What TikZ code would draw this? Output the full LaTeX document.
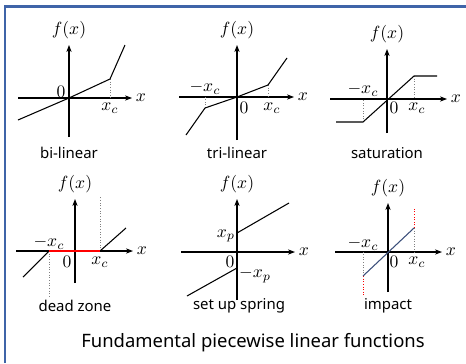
\documentclass[tikz,border=0pt]{standalone}
\usepackage{fontspec}
\setsansfont{Noto Sans}
\usetikzlibrary{arrows.meta}

\definecolor{framecol}{RGB}{63,100,168}
\definecolor{impactcol}{RGB}{58,78,122}

\begin{document}
\begin{tikzpicture}[x=0.02cm,y=0.02cm,
    axis/.style={line width=0.6pt,-{Stealth[length=4pt,width=3pt]}},
    graph/.style={line width=0.6pt},
    guide/.style={gray,densely dotted,line width=0.5pt},
    lab/.style={font=\fontsize{10}{12}\selectfont,inner sep=1pt},
    fname/.style={font=\sffamily\fontsize{8.5}{10}\selectfont,inner sep=1pt}]
  \useasboundingbox (0,0) rectangle (466,363);
  % frame
  \coordinate (k1) at (5,0);
  \coordinate (k2) at (5,357);
  \coordinate (k3) at (466,357);
  \draw[framecol,line width=0.06cm] (k1) -- (k2) -- (k3);
  % axes, f(x) and x
  \foreach \n/\px/\py/\xl/\xr/\yb/\yt in {1/69/265/51/63/39/53,
      2/237/266/58/57/43/52, 3/387/264/57/60/34/50,
      4/75/112/59/58/32/52, 5/237/111/56/58/48/53,
      6/388/111/53/54/40/49} {
    \begin{scope}[shift={(\px,\py)}]
      \coordinate (o\n) at (0,0);
      \coordinate (l\n) at (-\xl,0);
      \coordinate (r\n) at (\xr,0);
      \coordinate (b\n) at (0,-\yb);
      \coordinate (t\n) at (0,\yt);
      \draw[axis] (l\n) -- (r\n);
      \draw[axis] (b\n) -- (t\n);
      \node[lab,above=2pt] (f\n) at (t\n) {$f(x)$};
      \node[lab,right=1pt] (x\n) at (r\n) {$x$};
    \end{scope}
  }
  % names
  \node[fname] (n1) at (69,210) {bi-linear};
  \node[fname] (n2) at (237,210) {tri-linear};
  \node[fname] (n3) at (387,210) {saturation};
  \node[fname] (n4) at (75,57) {dead zone};
  \node[fname] (n5) at (239,57) {set up spring};
  \node[fname] (n6) at (388,57) {impact};
  % bi-linear
  \begin{scope}[shift={(69,265)}]
    \coordinate (p1) at (-51,-22);
    \coordinate (p2) at (41,19);
    \coordinate (p3) at (56,53);
    \draw[guide] (p2) -- (p2 |- o1);
    \draw[graph] (p1) -- (o1) -- (p2) -- (p3);
    \node[lab] (z1) at (-8,6) {$0$};
    \node[lab] (c1) at (41,-10) {$x_c$};
  \end{scope}
  % tri-linear
  \begin{scope}[shift={(237,266)}]
    \coordinate (q1) at (-51,-38);
    \coordinate (q2) at (-32,-11);
    \coordinate (q3) at (31,12);
    \coordinate (q4) at (50,39);
    \draw[guide] (q2) -- (q2 |- o2);
    \draw[guide] (q3) -- (q3 |- o2);
    \draw[graph] (q1) -- (q2) -- (o2) -- (q3) -- (q4);
    \node[lab] (m2) at (-32,9) {$-x_c$};
    \node[lab] (z2) at (7,-11) {$0$};
    \node[lab] (c2) at (35,-11) {$x_c$};
  \end{scope}
  % saturation
  \begin{scope}[shift={(387,264)}]
    \coordinate (s1) at (-51,-23);
    \coordinate (s2) at (-24,-23);
    \coordinate (s3) at (27,23);
    \coordinate (s4) at (50,23);
    \draw[guide] (s2) -- (s2 |- o3);
    \draw[guide] (s3) -- (s3 |- o3);
    \draw[graph] (s1) -- (s2) -- (s3) -- (s4);
    \node[lab] (m3) at (-24,9) {$-x_c$};
    \node[lab] (z3) at (7,-9) {$0$};
    \node[lab] (c3) at (30,-9) {$x_c$};
  \end{scope}
  % dead zone
  \begin{scope}[shift={(75,112)}]
    \coordinate (d1) at (-52,-26);
    \coordinate (d2) at (-26,0);
    \coordinate (d3) at (25,0);
    \coordinate (d4) at (51,23);
    \coordinate (d5) at (-26,-46);
    \coordinate (d6) at (25,54);
    \draw[guide] (d2) -- (d5);
    \draw[guide] (d3) -- (d6);
    \draw[graph] (d1) -- (d2);
    \draw[graph] (d3) -- (d4);
    \draw[red,line width=0.6pt] (d2) -- (d3);
    \node[lab] (m4) at (-26,8) {$-x_c$};
    \node[lab] (z4) at (-8,-11) {$0$};
    \node[lab] (c4) at (25,-11) {$x_c$};
  \end{scope}
  % set up spring
  \begin{scope}[shift={(237,111)}]
    \coordinate (u1) at (0,19);
    \coordinate (u2) at (52,49);
    \coordinate (u3) at (-50,-44);
    \coordinate (u4) at (0,-16);
    \draw[graph] (u1) -- (u2);
    \draw[graph] (u3) -- (u4);
    \node[lab] (xp5) at (-11,16) {$x_p$};
    \node[lab] (z5) at (-7,-10) {$0$};
    \node[lab] (mp5) at (18,-23) {$-x_p$};
  \end{scope}
  % impact
  \begin{scope}[shift={(388,111)}]
    \coordinate (i1) at (-25,-24);
    \coordinate (i2) at (26,24);
    \coordinate (i3) at (26,44);
    \coordinate (i4) at (-25,-44);
    \draw[guide] (i2) -- (i2 |- o6);
    \draw[guide] (i1) -- (i1 |- o6);
    \draw[red,densely dotted,line width=0.5pt] (i2) -- (i3);
    \draw[red,densely dotted,line width=0.5pt] (i1) -- (i4);
    \draw[impactcol,line width=0.6pt] (i1) -- (i2);
    \node[lab] (m6) at (-25,8) {$-x_c$};
    \node[lab] (z6) at (6,-10) {$0$};
    \node[lab] (c6) at (29,-10) {$x_c$};
  \end{scope}
  \node[font=\sffamily\fontsize{10.5}{12}\selectfont] (title) at (253,20)
    {Fundamental piecewise linear functions};
\end{tikzpicture}
\end{document}
